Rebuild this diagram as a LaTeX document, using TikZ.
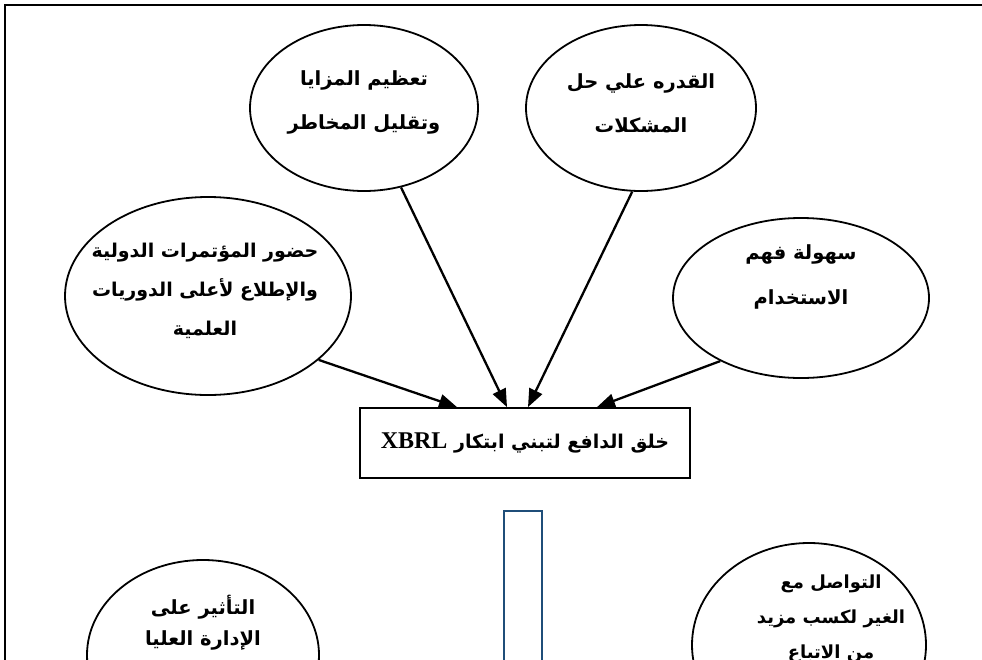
\documentclass[tikz,border=0pt]{standalone}
\usepackage{fontspec}
\setmainfont{Liberation Serif}
\newfontfamily\arabicfont[Script=Arabic]{DejaVu Sans}
\TeXXeTstate=1
\usetikzlibrary{positioning,shapes.geometric,arrows.meta}

\definecolor{barblue}{RGB}{31,78,121}

\tikzset{
  oval/.style={draw, ellipse, line width=1.8pt, inner sep=0pt},
  ovaltext/.style={align=center, font=\arabicfont\bfseries\fontsize{19.5}{44}\selectfont},
  push/.style={-{Triangle[length=18pt,width=14pt]}, line width=2.3pt},
}

\begin{document}
\begin{tikzpicture}[x=1pt,y=-1pt]
  \useasboundingbox (0,0) rectangle (982,659);
  \clip (0,0) rectangle (982,659);
  \fill[white] (0,0) rectangle (982,659);

  % Cornice
  \draw[line width=2.6pt] (5,700) -- (5,5) -- (990,5);

  % Ellissi superiori
  \node[oval, minimum width=228pt, minimum height=166pt] (adv) at (364,108) {};
  \node[ovaltext] (advtext) at ([yshift=6pt]adv.center)
    {\beginR تعظيم المزايا\endR\\\beginR وتقليل المخاطر\endR};

  \node[oval, minimum width=230pt, minimum height=166pt] (solve) at (641,108) {};
  \node[ovaltext] (solvetext) at ([yshift=5pt]solve.center)
    {\beginR القدره علي حل\endR\\\beginR المشكلات\endR};

  \node[oval, minimum width=286pt, minimum height=198pt] (conf) at (208,296) {};
  \node[ovaltext, font=\arabicfont\bfseries\fontsize{19}{39}\selectfont] (conftext) at ([xshift=-3pt,yshift=5pt]conf.center)
    {\beginR حضور المؤتمرات الدولية\endR\\\beginR والإطلاع لأعلى الدوريات\endR\\\beginR العلمية\endR};

  \node[oval, minimum width=256pt, minimum height=160pt] (ease) at (801,298) {};
  \node[ovaltext, font=\arabicfont\bfseries\fontsize{19.5}{45}\selectfont] (easetext) at ([yshift=21pt]ease.center)
    {\beginR سهولة فهم\endR\\\beginR الاستخدام\endR};

  % Riquadro centrale
  \node[draw, line width=1.8pt, minimum width=330pt, minimum height=70pt,
        font=\arabicfont\bfseries\fontsize{19}{22}\selectfont] (motive) at (525,443)
    {\raisebox{5pt}{\beginR خلق الدافع لتبني ابتكار \beginL{\rmfamily\bfseries\fontsize{24}{26}\selectfont XBRL}\endL\endR}};

  % Frecce verso il riquadro
  \coordinate (tipconf) at ([xshift=-68pt]motive.north);
  \coordinate (tipadv) at ([xshift=-18pt]motive.north);
  \coordinate (tipsolve) at ([xshift=3pt]motive.north);
  \coordinate (tipease) at ([xshift=72pt]motive.north);
  \draw[push] (conf.-30) -- (tipconf);
  \draw[push] (adv.295) -- (tipadv);
  \draw[push] (solve.264) -- (tipsolve);
  \draw[push] (ease.218) -- (tipease);

  % Barra blu
  \node[draw=barblue, line width=2.4pt, minimum width=38pt, minimum height=220pt,
        anchor=north, inner sep=0pt] (bar) at (523,510) {};

  % Ellissi inferiori
  \node[oval, minimum width=232pt, minimum height=190pt] (boss) at (203,655) {};
  \node[ovaltext, font=\arabicfont\bfseries\fontsize{19.5}{31}\selectfont] (bosstext) at ([yshift=32pt]boss.center)
    {\beginR التأثير على\endR\\\beginR الإدارة العليا\endR};

  \node[oval, minimum width=234pt, minimum height=204pt] (peer) at (809,645) {};
  \node[ovaltext, font=\arabicfont\bfseries\fontsize{18}{35}\selectfont] (peertext) at ([xshift=22pt,yshift=26pt]peer.center)
    {\beginR التواصل مع\endR\\\beginR الغير لكسب مزيد\endR\\\beginR من الاتباع\endR};
\end{tikzpicture}
\end{document}
